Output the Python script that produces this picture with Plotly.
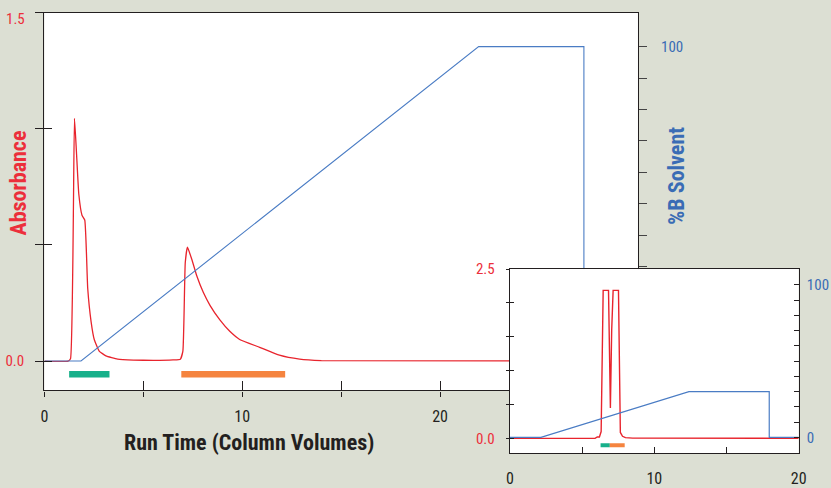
import plotly.graph_objects as go

W, H = 831, 488

# ---------------- data (main chart) ----------------
main_cv = [0, 1.2, 1.32, 1.52, 1.62, 1.74, 1.9, 2.04, 2.19, 2.36, 2.52, 2.77, 3.11, 3.7, 4.5,
           5.5, 6.5, 6.87, 7.0, 7.12, 7.23, 7.45, 7.7, 8.03, 8.37, 8.87, 9.37, 9.87, 10.88,
           11.88, 12.9, 14, 30]
main_abs = [0, 0, 0.01, 1.045, 0.9, 0.718, 0.628, 0.607, 0.312, 0.170, 0.093, 0.043, 0.022,
            0.008, 0.004, 0.003, 0.005, 0.008, 0.043, 0.423, 0.49, 0.438, 0.367, 0.296, 0.24,
            0.177, 0.128, 0.093, 0.059, 0.025, 0.008, 0.002, 0.0]
main_grad_cv = [0, 1.85, 21.95, 27.27, 27.27, 30]
main_grad_b = [0, 0, 100, 100, 0, 0]
main_frac_start = [1.25, 6.92]
main_frac_end = [3.29, 12.17]
main_frac_level = -0.057

# ---------------- data (inset chart) ----------------
inset_cv = [0, 5.9, 6.05, 6.2, 6.32, 6.4, 6.46, 6.83, 6.88, 6.96, 7.05, 7.15, 7.52, 7.57,
            7.65, 7.8, 8.0, 8.5, 20]
inset_abs = [0, 0, 0.02, 0.02, 0.1, 1.8, 2.185, 2.185, 1.6, 0.45, 1.6, 2.185, 2.185, 1.6,
             0.087, 0.03, 0.01, 0.003, 0]
inset_grad_cv = [0, 2.15, 12.4, 17.96, 17.96, 20]
inset_grad_b = [0, 0, 30, 30, 0, 0]
inset_frac_start = [6.28, 6.92]
inset_frac_end = [6.92, 7.95]
inset_frac_level = -0.101

frac_colors = ["#17b08a", "#f5843f"]

main_xticks = [0, 5, 10, 15, 20, 25, 30]
main_xtext = ["0", "", "10", "", "20", "", ""]
main_yticks = [0, 0.5, 1.0, 1.5]
main_ytext = ["0.0", "", "", ""]
main_ytop_label = "1.5"
main_y2ticks = [0, 10, 20, 30, 40, 50, 60, 70, 80, 90, 100]
main_y2text = ["", "", "", "", "", "", "", "", "", "", "100"]
inset_xticks = [0, 5, 10, 15, 20]
inset_xtext = ["0", "", "10", "", "20"]
inset_yticks = [0, 0.5, 1.0, 1.5, 2.0, 2.5]
inset_ytext = ["0.0", "", "", "", "", "2.5"]
inset_y2ticks = [0, 10, 20, 30, 40, 50, 60, 70, 80, 90, 100]
inset_y2text = ["0", "", "", "", "", "", "", "", "", "", "100"]

RED = "#e8242d"
RED_TXT = "#ec2f3b"
BLUE = "#4a7cc4"
BLUE_TXT = "#3a6cb5"
DARK = "#231f20"
BG = "#dcdfd3"
FONT = "Liberation Sans Narrow, Roboto Condensed, Arial Narrow, Liberation Sans, sans-serif"

# page-to-figure compensation (measured from the viewer's rendering)
OX, SX = 2.3, 0.993
OY, SY = 7.3, 0.9715


def px(x):
    return (x - OX) / SX / W


def py(y):
    return 1 - (y - OY) / SY / H


fig = go.Figure()

# main chart traces
fig.add_trace(go.Scatter(x=main_grad_cv, y=main_grad_b, mode="lines", xaxis="x", yaxis="y2",
                         line=dict(color=BLUE, width=1.1), hoverinfo="skip"))
fig.add_trace(go.Scatter(x=main_cv, y=main_abs, mode="lines", xaxis="x", yaxis="y",
                         line=dict(color=RED, width=1.3, shape="spline", smoothing=0.4),
                         hoverinfo="skip"))
for s, e, c in zip(main_frac_start, main_frac_end, frac_colors):
    fig.add_trace(go.Scatter(x=[s, e], y=[main_frac_level, main_frac_level], mode="lines",
                             xaxis="x", yaxis="y", line=dict(color=c, width=6.5),
                             hoverinfo="skip"))
# dummy trace for inside tick overlays of main chart
fig.add_trace(go.Scatter(x=[None], y=[None], xaxis="x3", yaxis="y5", showlegend=False))

# inset traces
fig.add_trace(go.Scatter(x=inset_grad_cv, y=inset_grad_b, mode="lines", xaxis="x2", yaxis="y4",
                         line=dict(color=BLUE, width=1.2), hoverinfo="skip"))
fig.add_trace(go.Scatter(x=inset_cv, y=inset_abs, mode="lines", xaxis="x2", yaxis="y3",
                         line=dict(color=RED, width=1.4), hoverinfo="skip"))
for s, e, c in zip(inset_frac_start, inset_frac_end, frac_colors):
    fig.add_trace(go.Scatter(x=[s, e], y=[inset_frac_level, inset_frac_level], mode="lines",
                             xaxis="x2", yaxis="y3", line=dict(color=c, width=4),
                             hoverinfo="skip"))
fig.add_trace(go.Scatter(x=[None], y=[None], xaxis="x2", yaxis="y6", showlegend=False))

main_xdom = [px(43), px(641)]
main_ydom = [py(397), py(11)]
inset_xdom = [px(512), px(803)]
inset_ydom = [py(461), py(273)]

common = dict(showgrid=False, zeroline=False, fixedrange=True)

fig.update_layout(
    width=W, height=H,
    margin=dict(l=0, r=0, t=0, b=0),
    paper_bgcolor=BG,
    plot_bgcolor="#ffffff",
    showlegend=False,
    font=dict(family=FONT, size=15, color=DARK),
    xaxis=dict(domain=main_xdom, range=[0, 30], anchor="y", tickmode="array",
               tickvals=main_xticks, ticktext=main_xtext, ticks="outside", ticklen=5,
               tickwidth=1.2, tickcolor=DARK, showline=True, linecolor=DARK, linewidth=1.3,
               mirror=True, ticklabelstandoff=6, tickfont=dict(size=16, color=DARK), **common),
    xaxis3=dict(overlaying="x", range=[0, 30], anchor="y", tickmode="array",
                tickvals=main_xticks, ticks="inside", ticklen=9, tickwidth=1.2, tickcolor=DARK,
                showticklabels=False, showline=False, **common),
    yaxis=dict(domain=main_ydom, range=[-0.1264, 1.5], anchor="x", tickmode="array",
               tickvals=main_yticks, ticktext=main_ytext, ticks="outside", ticklen=8,
               tickwidth=1.2, tickcolor=DARK, showline=True, linecolor=DARK, linewidth=1.3,
               ticklabelstandoff=8, tickfont=dict(size=15, color=RED_TXT), **common),
    yaxis5=dict(overlaying="y", range=[-0.1264, 1.5], anchor="x", side="left", tickmode="array",
                tickvals=main_yticks, ticks="inside", ticklen=8, tickwidth=1.2, tickcolor=DARK,
                showticklabels=False, showline=False, **common),
    yaxis2=dict(overlaying="y", side="right", range=[-9.34, 110.8], anchor="x",
                tickmode="array", tickvals=main_y2ticks, ticktext=main_y2text, ticks="outside",
                ticklen=8, tickwidth=1.2, tickcolor="#444", showline=True, linecolor=DARK,
                linewidth=1.3, ticklabelstandoff=11, tickfont=dict(size=15, color=BLUE_TXT),
                **common),
    xaxis2=dict(domain=inset_xdom, range=[0, 20], anchor="y3", tickmode="array",
                tickvals=inset_xticks, ticktext=inset_xtext, ticks="inside", ticklen=6,
                tickwidth=1.2, tickcolor=DARK, showline=True, linecolor=DARK, linewidth=1.3,
                mirror=True, ticklabelstandoff=11, tickfont=dict(size=16, color=DARK), **common),
    yaxis3=dict(domain=inset_ydom, range=[-0.217, 2.5], anchor="x2", tickmode="array",
                tickvals=inset_yticks, ticktext=inset_ytext, ticks="outside", ticklen=3,
                tickwidth=1.2, tickcolor=DARK, showline=True, linecolor=DARK, linewidth=1.3,
                ticklabelstandoff=8, tickfont=dict(size=15, color=RED_TXT), **common),
    yaxis6=dict(overlaying="y3", range=[-0.217, 2.5], anchor="x2", side="left",
                tickmode="array", tickvals=inset_yticks, ticks="inside", ticklen=4,
                tickwidth=1.2, tickcolor=DARK, showticklabels=False, showline=False, **common),
    yaxis4=dict(overlaying="y3", side="right", range=[-10.28, 110.3], anchor="x2",
                tickmode="array", tickvals=inset_y2ticks, ticktext=inset_y2text, ticks="inside",
                ticklen=5, tickwidth=1.2, tickcolor=DARK, showline=True, linecolor=DARK,
                linewidth=1.3, ticklabelstandoff=4, tickfont=dict(size=15, color=BLUE_TXT),
                **common),
    annotations=[
        dict(text=main_ytop_label, x=px(25), y=py(18), xref="paper", yref="paper",
             showarrow=False, xanchor="right", yanchor="middle",
             font=dict(family=FONT, size=15, color=RED_TXT)),
        dict(text="<b>Absorbance</b>", x=px(17), y=py(185), xref="paper", yref="paper",
             textangle=-90, showarrow=False, xanchor="center", yanchor="middle",
             font=dict(family=FONT, size=22, color=RED_TXT)),
        dict(text="<b>%B Solvent</b>", x=px(679), y=py(178), xref="paper", yref="paper",
             textangle=-90, showarrow=False, xanchor="center", yanchor="middle",
             font=dict(family=FONT, size=22, color=BLUE_TXT)),
        dict(text="<b>Run Time (Column Volumes)</b>", x=px(249), y=py(450), xref="paper",
             yref="paper", showarrow=False, xanchor="center", yanchor="middle",
             font=dict(family=FONT, size=22, color=DARK)),
    ],
)

post = (
    "document.documentElement.style.background='" + BG + "';"
    "document.body.style.background='" + BG + "';"
    "document.body.style.margin='0';"
)

fig.write_html("out.html", post_script=post, config={"displayModeBar": False})
